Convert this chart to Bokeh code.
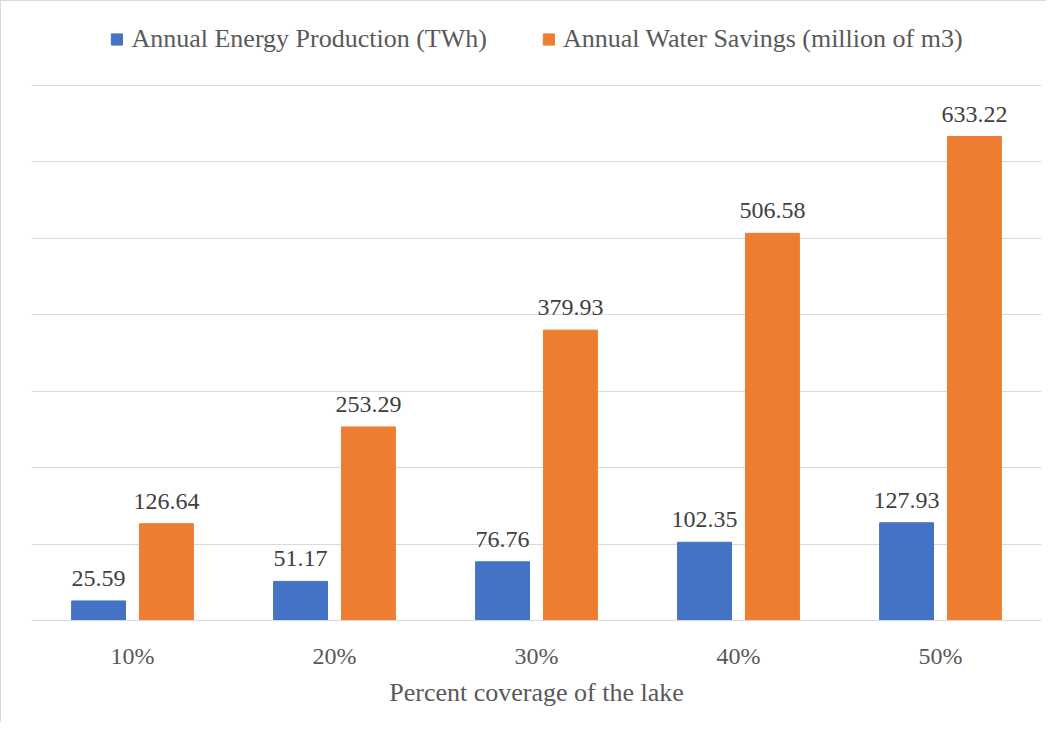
from bokeh.plotting import figure
from bokeh.models import ColumnDataSource, FactorRange, FixedTicker, LabelSet, Legend, LegendItem
from bokeh.transform import dodge
from bokeh.embed import file_html
from bokeh.resources import INLINE

categories = ["10%", "20%", "30%", "40%", "50%"]
energy = [25.59, 51.17, 76.76, 102.35, 127.93]
water = [126.64, 253.29, 379.93, 506.58, 633.22]
series_names = ["Annual Energy Production (TWh)", "Annual Water Savings (million of m3)"]
y_ticks = [0, 100, 200, 300, 400, 500, 600, 700]
x_title = "Percent coverage of the lake"

BLUE = "#4472C4"
ORANGE = "#ED7D31"
FONT = "Liberation Serif"

source = ColumnDataSource(dict(
    cats=categories,
    energy=energy,
    water=water,
    energy_lbl=[f"{v:.2f}" for v in energy],
    water_lbl=[f"{v:.2f}" for v in water],
))

p = figure(
    width=1046, height=722,
    x_range=FactorRange(*categories, range_padding=0),
    y_range=(0, 789),
    output_backend="svg", toolbar_location=None,
    min_border_left=30, min_border_right=6, min_border_top=16, min_border_bottom=103,
)
p.styles = {"border-left": "1px solid #d9d9d9", "border-top": "1px solid #d9d9d9"}
p.outline_line_color = None
p.background_fill_color = "white"

off = 0.168
bw = 0.267
r1 = p.vbar(x=dodge("cats", -off, range=p.x_range), top="energy", width=bw, source=source,
            fill_color=BLUE, line_color=BLUE)
r2 = p.vbar(x=dodge("cats", off, range=p.x_range), top="water", width=bw, source=source,
            fill_color=ORANGE, line_color=ORANGE)

for col, lbl, o in (("energy", "energy_lbl", -off), ("water", "water_lbl", off)):
    ls = LabelSet(x=dodge("cats", o, range=p.x_range), y=col, text=lbl, source=source,
                  text_align="center", text_baseline="alphabetic", y_offset=15,
                  text_font=FONT, text_font_size="24px", text_color="#404040")
    p.add_layout(ls)

p.yaxis.visible = False
p.ygrid.ticker = FixedTicker(ticks=y_ticks)
p.ygrid.grid_line_color = "#d9d9d9"
p.ygrid.grid_line_width = 1
p.xgrid.grid_line_color = None

ax = p.xaxis[0]
ax.axis_line_color = "#d9d9d9"
ax.major_tick_line_color = None
ax.minor_tick_line_color = None
ax.major_tick_out = 0
ax.major_tick_in = 0
ax.major_label_text_font = FONT
ax.major_label_text_font_size = "24px"
ax.major_label_text_color = "#595959"
ax.major_label_standoff = 22
ax.axis_label = x_title
ax.axis_label_text_font = FONT
ax.axis_label_text_font_size = "26px"
ax.axis_label_text_font_style = "normal"
ax.axis_label_text_color = "#595959"
ax.axis_label_standoff = 6

legend = Legend(items=[LegendItem(label=series_names[0], renderers=[r1]),
                       LegendItem(label=series_names[1], renderers=[r2])],
                location="top_center", orientation="horizontal",
                glyph_width=14, glyph_height=14, label_standoff=8, spacing=54,
                padding=0, margin=7, border_line_color=None, background_fill_alpha=0,
                label_text_font=FONT, label_text_font_size="26px", label_text_color="#595959")
p.add_layout(legend, "center")

open("out.html", "w").write(file_html(p, INLINE))
